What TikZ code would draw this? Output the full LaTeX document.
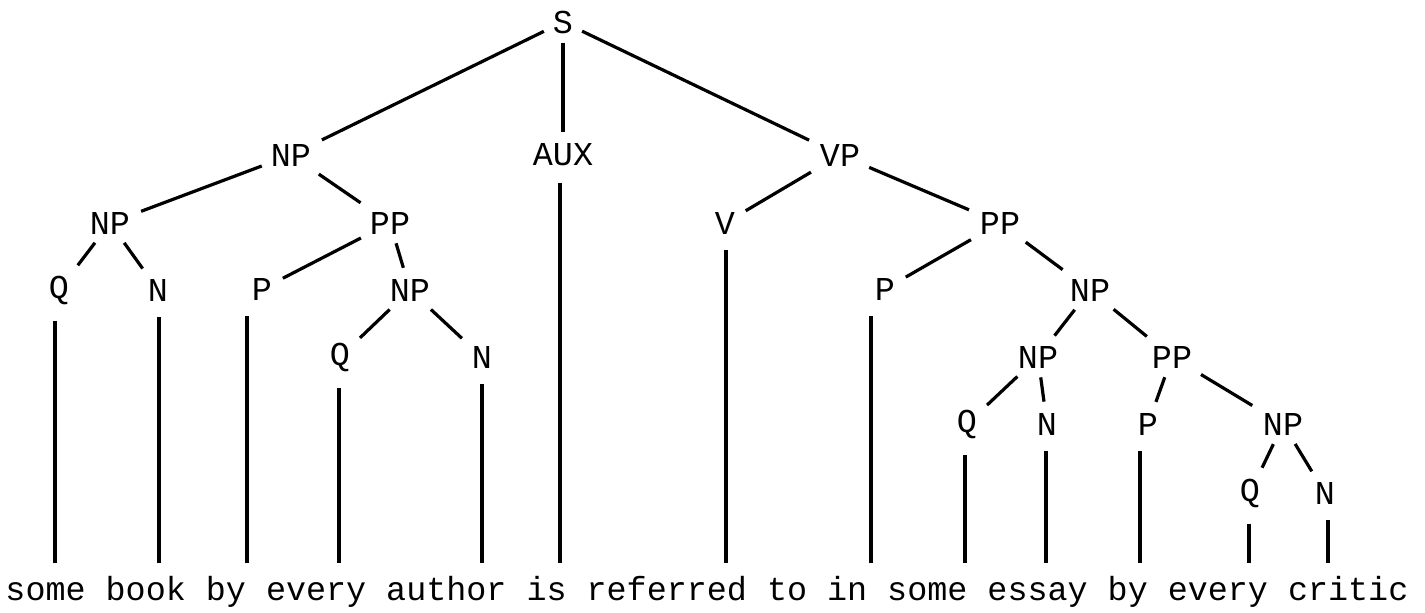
\documentclass[tikz,border=0pt]{standalone}
\usepackage{fontspec}
\setmonofont{Liberation Mono}
\begin{document}
\begin{tikzpicture}[x=0.5pt,y=-0.5pt,
  lab/.style={font=\ttfamily\fontsize{16.7pt}{18pt}\selectfont, inner sep=3pt},
  br/.style={line width=1.6pt, shorten <=1.5pt, shorten >=2.5pt},
  lf/.style={line width=1.6pt, shorten <=5pt}]
\useasboundingbox (0,0) rectangle (1425,612);
% nodes
\node[lab] (S) at (563,22) {S};
\node[lab] (NPa) at (291,155) {NP};
\node[lab] (AUX) at (563,155) {AUX};
\node[lab] (VP) at (840,155) {VP};
\node[lab] (NPb) at (110,223) {NP};
\node[lab] (PPa) at (390,223) {PP};
\node[lab] (V) at (725,223) {V};
\node[lab] (PPb) at (1000,223) {PP};
\node[lab] (Q1) at (59,290) {Q};
\node[lab] (N1) at (158,290) {N};
\node[lab] (P1) at (262,289) {P};
\node[lab] (NPc) at (410,290) {NP};
\node[lab] (P2) at (885,289) {P};
\node[lab] (NPd) at (1090,290) {NP};
\node[lab] (Q2) at (340,357) {Q};
\node[lab] (N2) at (482,357) {N};
\node[lab] (NPe) at (1038,357) {NP};
\node[lab] (PPc) at (1172,357) {PP};
\node[lab] (Q3) at (967,424) {Q};
\node[lab] (N3) at (1047,424) {N};
\node[lab] (P3) at (1148,424) {P};
\node[lab] (NPf) at (1283,424) {NP};
\node[lab] (Q4) at (1250,493) {Q};
\node[lab] (N4) at (1325,493) {N};
\node[lab, inner sep=0pt, anchor=base] (words) at (707,600) {some book by every author is referred to in some essay by every critic};
% word anchors
\coordinate (w1) at (55,563);
\coordinate (w2) at (159,563);
\coordinate (w3) at (247,563);
\coordinate (w4) at (339,563);
\coordinate (w5) at (482,563);
\coordinate (w6) at (560,563);
\coordinate (w7) at (726,563);
\coordinate (w8) at (871,563);
\coordinate (w9) at (965,563);
\coordinate (w10) at (1046,563);
\coordinate (w11) at (1140,563);
\coordinate (w12) at (1249,563);
\coordinate (w13) at (1328,563);
% branches
\draw[br] (S) -- (NPa);
\draw[br] (S) -- (AUX);
\draw[br] (S) -- (VP);
\draw[br] (NPa) -- (NPb);
\draw[br] (NPa) -- (PPa);
\draw[br] (VP) -- (V);
\draw[br] (VP) -- (PPb);
\draw[br] (NPb) -- (Q1);
\draw[br] (NPb) -- (N1);
\draw[br] (PPa) -- (P1);
\draw[br] (PPa) -- (NPc);
\draw[br] (PPb) -- (P2);
\draw[br] (PPb) -- (NPd);
\draw[br] (NPc) -- (Q2);
\draw[br] (NPc) -- (N2);
\draw[br] (NPd) -- (NPe);
\draw[br] (NPd) -- (PPc);
\draw[br] (NPe) -- (Q3);
\draw[br] (NPe) -- (N3);
\draw[br] (PPc) -- (P3);
\draw[br] (PPc) -- (NPf);
\draw[br] (NPf) -- (Q4);
\draw[br] (NPf) -- (N4);
% leaves
\draw[lf] (Q1.south -| w1) -- (w1);
\draw[lf] (N1.south -| w2) -- (w2);
\draw[lf] (P1.south -| w3) -- (w3);
\draw[lf] (Q2.south -| w4) -- (w4);
\draw[lf] (N2.south -| w5) -- (w5);
\draw[lf] (AUX.south -| w6) -- (w6);
\draw[lf] (V.south -| w7) -- (w7);
\draw[lf] (P2.south -| w8) -- (w8);
\draw[lf] (Q3.south -| w9) -- (w9);
\draw[lf] (N3.south -| w10) -- (w10);
\draw[lf] (P3.south -| w11) -- (w11);
\draw[lf] (Q4.south -| w12) -- (w12);
\draw[lf] (N4.south -| w13) -- (w13);
\end{tikzpicture}
\end{document}
